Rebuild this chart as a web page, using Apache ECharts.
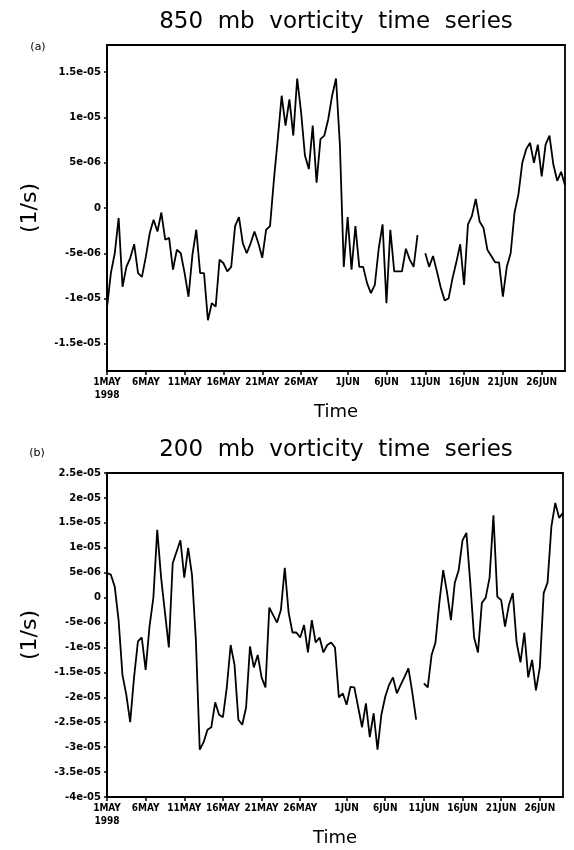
<!DOCTYPE html>
<html><head><meta charset="utf-8">
<script src="https://cdn.jsdelivr.net/npm/echarts@6/dist/echarts.min.js"></script>
<style>html,body{margin:0;padding:0;background:#fff}#c{width:574px;height:850px}</style>
</head><body><div id="c"></div>
<script>
// 12-hourly samples from 1 MAY 1998 00Z, values in units of 1e-6 s^-1
const tickDays = [0, 5, 10, 15, 20, 25, 31, 36, 41, 46, 51, 56];
const tickLabels = ['1MAY\n1998', '6MAY', '11MAY', '16MAY', '21MAY', '26MAY', '1JUN', '6JUN', '11JUN', '16JUN', '21JUN', '26JUN'];

const vort850 = [
  -11.0, -7.2, -5.0, -1.1, -8.7, -6.5, -5.5, -4.0, -7.2, -7.6,
  -5.4, -2.8, -1.3, -2.6, -0.5, -3.5, -3.3, -6.8, -4.6, -5.0,
  -7.2, -9.8, -5.2, -2.4, -7.2, -7.2, -12.4, -10.5, -10.9, -5.7,
  -6.1, -7.0, -6.5, -2.0, -1.0, -3.9, -5.0, -3.9, -2.6, -3.9,
  -5.5, -2.4, -2.0, 3.1, 7.6, 12.4, 9.1, 12.0, 8.0, 14.3,
  10.6, 5.8, 4.3, 9.1, 2.8, 7.6, 8.0, 9.8, 12.4, 14.3,
  7.0, -6.5, -1.0, -6.8, -2.0, -6.5, -6.5, -8.3, -9.4, -8.5,
  -4.5, -1.8, -10.5, -2.4, -7.0, -7.0, -7.0, -4.5, -5.7, -6.5,
  -3.0, null, -5.0, -6.5, -5.3, -7.0, -8.8, -10.2, -10.0, -7.8,
  -6.0, -4.0, -8.5, -1.8, -0.9, 1.0, -1.5, -2.2, -4.6, -5.3,
  -6.0, -6.0, -9.8, -6.5, -5.0, -0.5, 1.5, 5.0, 6.5, 7.2,
  5.0, 7.0, 3.5, 7.0, 8.0, 4.8, 3.0, 4.0, 2.5
];

const vort200 = [
  4.9, 4.6, 2.2, -4.5, -15.5, -19.5, -25.0, -16.0, -8.8, -8.0,
  -14.5, -5.8, 0.0, 13.6, 4.0, -3.0, -10.0, 6.9, 9.2, 11.5,
  4.0, 10.0, 4.5, -8.5, -30.5, -29.0, -26.5, -26.0, -21.0, -23.5,
  -24.0, -18.0, -9.5, -13.5, -24.5, -25.5, -22.0, -9.8, -14.0, -11.5,
  -16.0, -18.0, -2.0, -3.5, -5.0, -2.5, 6.0, -3.0, -7.0, -7.0,
  -8.0, -5.5, -11.0, -4.5, -9.0, -8.0, -11.0, -9.5, -9.0, -10.0,
  -20.0, -19.2, -21.5, -17.9, -18.0, -22.0, -26.0, -21.2, -28.0, -23.2,
  -30.5, -23.5, -19.9, -17.5, -16.0, -19.2, -17.5, -15.9, -14.2, -19.0,
  -24.5, null, -17.2, -18.0, -11.5, -9.0, -1.0, 5.5, 1.0, -4.5,
  3.0, 5.5, 11.5, 13.0, 3.0, -8.0, -11.0, -1.1, 0.0, 4.0,
  16.5, 0.2, -0.5, -5.8, -1.5, 0.9, -9.0, -13.0, -7.0, -16.0,
  -12.5, -18.6, -14.0, 0.9, 3.0, 14.3, 19.0, 16.0, 17.0
];

const yTicks850 = [-15, -10, -5, 0, 5, 10, 15];
const yLabels850 = ['-1.5e-05', '-1e-05', '-5e-06', '0', '5e-06', '1e-05', '1.5e-05'];
const yTicks200 = [-40, -35, -30, -25, -20, -15, -10, -5, 0, 5, 10, 15, 20, 25];
const yLabels200 = ['-4e-05', '-3.5e-05', '-3e-05', '-2.5e-05', '-2e-05', '-1.5e-05', '-1e-05', '-5e-06', '0', '5e-06', '1e-05', '1.5e-05', '2e-05', '2.5e-05'];

const titles = ['850  mb  vorticity  time  series', '200  mb  vorticity  time  series'];
const panelTags = ['(a)', '(b)'];

// category axis (12-hourly time stamps)
const nPts = vort850.length;
const times = [];
for (let i = 0; i < nPts; i++) {
  const d = Math.floor(i / 2);
  const day = d < 31 ? (d + 1) + 'MAY' : (d - 30) + 'JUN';
  times.push((i % 2 ? '12Z' : '00Z') + day + '1998');
}
const tickIdx = tickDays.map(d => d * 2);
const showTick = (index) => tickIdx.indexOf(index) >= 0;

const chart = echarts.init(document.getElementById('c'), null, {renderer: 'canvas'});

function xAxisCfg(gi) {
  return {
    gridIndex: gi, type: 'category', data: times, boundaryGap: false,
    axisLine: {show: true, onZero: false, lineStyle: {color: '#000', width: 2}},
    axisTick: {show: true, interval: showTick, length: 4, lineStyle: {color: '#000', width: 1.5}},
    axisLabel: {
      interval: showTick, margin: 5, color: '#000',
      fontFamily: "'Liberation Sans Narrow', 'DejaVu Sans Condensed', sans-serif",
      fontWeight: 'bold', fontSize: 10, lineHeight: 13,
      formatter: (v, i) => { const k = tickIdx.indexOf(i); return k >= 0 ? tickLabels[k] : ''; }
    },
    splitLine: {show: false},
    name: 'Time', nameLocation: 'middle', nameGap: gi === 0 ? 28 : 27,
    nameTextStyle: {fontFamily: 'DejaVu Sans', fontSize: 18, color: '#000'}
  };
}
function yAxisCfg(gi, ticks, labels, mn, mx) {
  return {
    gridIndex: gi, type: 'value', min: mn, max: mx,
    axisLine: {show: true, onZero: false, lineStyle: {color: '#000', width: 2}},
    axisTick: {show: true, customValues: ticks, length: 3, lineStyle: {color: '#000', width: 1.5}},
    axisLabel: {
      customValues: ticks, margin: 6, color: '#000',
      fontFamily: 'DejaVu Sans', fontWeight: 'bold', fontSize: 10,
      formatter: (v) => { const k = ticks.indexOf(Math.round(v)); return k >= 0 ? labels[k] : ''; }
    },
    splitLine: {show: false},
    name: '(1/s)', nameLocation: 'middle', nameGap: 66, nameRotate: 90,
    nameTextStyle: {fontFamily: 'DejaVu Sans', fontSize: 22, color: '#000'}
  };
}

chart.setOption({
  animation: false,
  backgroundColor: '#fff',
  grid: [
    {left: 107, right: 9, top: 45, height: 326, show: true, borderColor: '#000', borderWidth: 1.8, containLabel: false},
    {left: 107, right: 11, top: 473, height: 324, show: true, borderColor: '#000', borderWidth: 1.8, containLabel: false}
  ],
  xAxis: [xAxisCfg(0), xAxisCfg(1)],
  yAxis: [yAxisCfg(0, yTicks850, yLabels850, -18, 18), yAxisCfg(1, yTicks200, yLabels200, -40, 25)],
  series: [
    {type: 'line', xAxisIndex: 0, yAxisIndex: 0, data: vort850, showSymbol: false, connectNulls: false,
     lineStyle: {color: '#000', width: 1.8}},
    {type: 'line', xAxisIndex: 1, yAxisIndex: 1, data: vort200, showSymbol: false, connectNulls: false,
     lineStyle: {color: '#000', width: 1.8}}
  ],
  graphic: [
    {type: 'text', x: 336, y: 22, style: {text: titles[0], font: '23px "DejaVu Sans"', fill: '#000', align: 'center', verticalAlign: 'middle'}},
    {type: 'text', x: 336, y: 450, style: {text: titles[1], font: '23px "DejaVu Sans"', fill: '#000', align: 'center', verticalAlign: 'middle'}},
    {type: 'text', x: 38, y: 47, style: {text: panelTags[0], font: '11px "DejaVu Sans"', fill: '#000', align: 'center', verticalAlign: 'middle'}},
    {type: 'text', x: 37, y: 453, style: {text: panelTags[1], font: '11px "DejaVu Sans"', fill: '#000', align: 'center', verticalAlign: 'middle'}}
  ]
});
</script>
</body></html>
